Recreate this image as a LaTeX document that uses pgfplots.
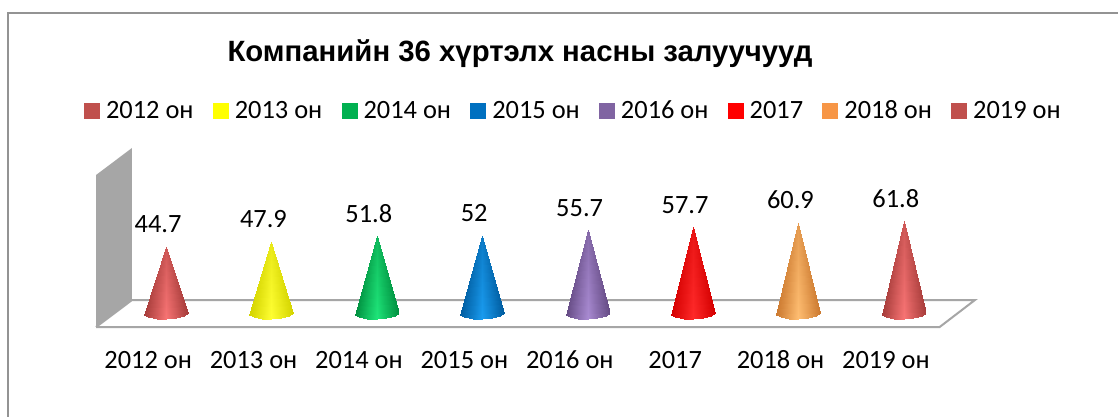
\documentclass[border=0pt]{standalone}
\usepackage{fontspec}
\setmainfont{Carlito}
\newfontfamily\titlefont{Liberation Sans}
\usepackage{pgfplots}
\pgfplotsset{compat=1.18}
\definecolor{c0}{HTML}{C0504D}\definecolor{d0}{HTML}{A63C3A}\definecolor{l0}{HTML}{F87474}
\definecolor{c1}{HTML}{FFFF00}\definecolor{d1}{HTML}{D4D400}\definecolor{l1}{HTML}{FFFF33}
\definecolor{c2}{HTML}{00B050}\definecolor{d2}{HTML}{008F3F}\definecolor{l2}{HTML}{1FE67A}
\definecolor{c3}{HTML}{0070C0}\definecolor{d3}{HTML}{005C9F}\definecolor{l3}{HTML}{1A9CF0}
\definecolor{c4}{HTML}{8064A2}\definecolor{d4}{HTML}{654B84}\definecolor{l4}{HTML}{A98BD2}
\definecolor{c5}{HTML}{FF0000}\definecolor{d5}{HTML}{D40000}\definecolor{l5}{HTML}{FF2A2A}
\definecolor{c6}{HTML}{F79646}\definecolor{d6}{HTML}{CC7A30}\definecolor{l6}{HTML}{FFBE72}
\definecolor{gridg}{HTML}{A6A6A6}
\pgfplotsset{
  colormap={m0}{color(0cm)=(d0) color(1cm)=(l0)},
  colormap={m1}{color(0cm)=(d1) color(1cm)=(l1)},
  colormap={m2}{color(0cm)=(d2) color(1cm)=(l2)},
  colormap={m3}{color(0cm)=(d3) color(1cm)=(l3)},
  colormap={m4}{color(0cm)=(d4) color(1cm)=(l4)},
  colormap={m5}{color(0cm)=(d5) color(1cm)=(l5)},
  colormap={m6}{color(0cm)=(d6) color(1cm)=(l6)},
  cone/.style={forget plot,patch,shader=interp,colormap name=m#1,point meta=explicit},
  legsq/.style={legend image code/.code={\fill[c#1] (0pt,-5.6pt) rectangle (11.25pt,5.6pt);}},
}
\begin{document}
\begin{tikzpicture}
\path[use as bounding box,fill=white] (0,0) rectangle (838.5pt,312.75pt);
\draw[color=gray!85,line width=1.4pt] (6pt,0) -- (6pt,303pt) -- (838.5pt,303pt);
\node[font={\titlefont\bfseries\fontsize{22}{26}\selectfont},anchor=center] at (390pt,272.5pt) {Компанийн 36 хүртэлх насны залуучууд};
\begin{axis}[
  at={(85pt,54.75pt)},anchor=south west,
  scale only axis,width=632.4pt,height=191.25pt,
  xmin=-0.5,xmax=7.5,ymin=-20,ymax=150,
  clip=false,
  point meta min=0,point meta max=1,
  axis line style={draw=none},
  major tick style={draw=none},
  ymajorticks=false,
  xtick={0,1,2,3,4,5,6,7},
  xticklabels={2012 он,2013 он,2014 он,2015 он,2016 он,2017,2018 он,2019 он},
  xticklabel style={font=\fontsize{19.8}{22}\selectfont,text height=13pt,text depth=0pt,yshift=-1.6pt,xshift=-13.4pt},
  legend columns=8,
  legend cell align=left,
  legend style={at={(-0.0347,0.914)},anchor=west,draw=none,fill=none,inner sep=0pt,outer sep=0pt,
    font=\fontsize{19.8}{22}\selectfont,
    /tikz/every even column/.append style={column sep=14.4pt},
    /tikz/every odd column/.append style={column sep=4.85pt},
    nodes={inner sep=0pt}},
  /pgf/number format/assume math mode=true,
]
% floor and wall
\addplot[forget plot,draw=gridg,line width=1.5pt,fill=white] coordinates {(-0.664,-8.67) (7.34,-8.67) (7.675,9.33) (-0.323,9.33) (-0.664,-8.67)};
\addplot[forget plot,draw=none,fill=gridg] coordinates {(-0.664,-8.67) (-0.664,92.67) (-0.323,110.67) (-0.323,9.33) (-0.664,-8.67)};
% cones: fans of triangles from the base arc to the apex
\addplot[cone=0] coordinates {
(-0.209,-0.7)[0](-0.17,-2.2)[.19](0,44.7)[.5]
(-0.17,-2.2)[.19](-0.09,-3.2)[.57](0,44.7)[.5]
(-0.09,-3.2)[.57](0,-3.4)[1](0,44.7)[.5]
(0,-3.4)[1](0.09,-3.0)[.57](0,44.7)[.5]
(0.09,-3.0)[.57](0.17,-1.6)[.19](0,44.7)[.5]
(0.17,-1.6)[.19](0.209,0.6)[0](0,44.7)[.5]};
\addplot[cone=1] coordinates {
(0.791,-0.7)[0](0.83,-2.2)[.19](1,47.9)[.5]
(0.83,-2.2)[.19](0.91,-3.2)[.57](1,47.9)[.5]
(0.91,-3.2)[.57](1,-3.4)[1](1,47.9)[.5]
(1,-3.4)[1](1.09,-3.0)[.57](1,47.9)[.5]
(1.09,-3.0)[.57](1.17,-1.6)[.19](1,47.9)[.5]
(1.17,-1.6)[.19](1.209,0.6)[0](1,47.9)[.5]};
\addplot[cone=2] coordinates {
(1.791,-0.7)[0](1.83,-2.2)[.19](2,51.8)[.5]
(1.83,-2.2)[.19](1.91,-3.2)[.57](2,51.8)[.5]
(1.91,-3.2)[.57](2,-3.4)[1](2,51.8)[.5]
(2,-3.4)[1](2.09,-3.0)[.57](2,51.8)[.5]
(2.09,-3.0)[.57](2.17,-1.6)[.19](2,51.8)[.5]
(2.17,-1.6)[.19](2.209,0.6)[0](2,51.8)[.5]};
\addplot[cone=3] coordinates {
(2.791,-0.7)[0](2.83,-2.2)[.19](3,52)[.5]
(2.83,-2.2)[.19](2.91,-3.2)[.57](3,52)[.5]
(2.91,-3.2)[.57](3,-3.4)[1](3,52)[.5]
(3,-3.4)[1](3.09,-3.0)[.57](3,52)[.5]
(3.09,-3.0)[.57](3.17,-1.6)[.19](3,52)[.5]
(3.17,-1.6)[.19](3.209,0.6)[0](3,52)[.5]};
\addplot[cone=4] coordinates {
(3.791,-0.7)[0](3.83,-2.2)[.19](4,55.7)[.5]
(3.83,-2.2)[.19](3.91,-3.2)[.57](4,55.7)[.5]
(3.91,-3.2)[.57](4,-3.4)[1](4,55.7)[.5]
(4,-3.4)[1](4.09,-3.0)[.57](4,55.7)[.5]
(4.09,-3.0)[.57](4.17,-1.6)[.19](4,55.7)[.5]
(4.17,-1.6)[.19](4.209,0.6)[0](4,55.7)[.5]};
\addplot[cone=5] coordinates {
(4.791,-0.7)[0](4.83,-2.2)[.19](5,57.7)[.5]
(4.83,-2.2)[.19](4.91,-3.2)[.57](5,57.7)[.5]
(4.91,-3.2)[.57](5,-3.4)[1](5,57.7)[.5]
(5,-3.4)[1](5.09,-3.0)[.57](5,57.7)[.5]
(5.09,-3.0)[.57](5.17,-1.6)[.19](5,57.7)[.5]
(5.17,-1.6)[.19](5.209,0.6)[0](5,57.7)[.5]};
\addplot[cone=6] coordinates {
(5.791,-0.7)[0](5.83,-2.2)[.19](6,60.9)[.5]
(5.83,-2.2)[.19](5.91,-3.2)[.57](6,60.9)[.5]
(5.91,-3.2)[.57](6,-3.4)[1](6,60.9)[.5]
(6,-3.4)[1](6.09,-3.0)[.57](6,60.9)[.5]
(6.09,-3.0)[.57](6.17,-1.6)[.19](6,60.9)[.5]
(6.17,-1.6)[.19](6.209,0.6)[0](6,60.9)[.5]};
\addplot[cone=0] coordinates {
(6.791,-0.7)[0](6.83,-2.2)[.19](7,61.8)[.5]
(6.83,-2.2)[.19](6.91,-3.2)[.57](7,61.8)[.5]
(6.91,-3.2)[.57](7,-3.4)[1](7,61.8)[.5]
(7,-3.4)[1](7.09,-3.0)[.57](7,61.8)[.5]
(7.09,-3.0)[.57](7.17,-1.6)[.19](7,61.8)[.5]
(7.17,-1.6)[.19](7.209,0.6)[0](7,61.8)[.5]};
\addlegendimage{legsq=0}\addlegendimage{legsq=1}\addlegendimage{legsq=2}\addlegendimage{legsq=3}
\addlegendimage{legsq=4}\addlegendimage{legsq=5}\addlegendimage{legsq=6}\addlegendimage{legsq=0}
\legend{2012 он,2013 он,2014 он,2015 он,2016 он,2017,2018 он,2019 он}
% value labels
\addplot[forget plot,only marks,mark=none,point meta=y,
  nodes near coords,
  nodes near coords align={anchor=center},
  every node near coord/.append style={font=\fontsize{19.8}{22}\selectfont,color=black,xshift=-6pt,yshift=17pt}]
  coordinates {(0,44.7)(1,47.9)(2,51.8)(3,52)(4,55.7)(5,57.7)(6,60.9)(7,61.8)};
\end{axis}
\end{tikzpicture}
\end{document}
